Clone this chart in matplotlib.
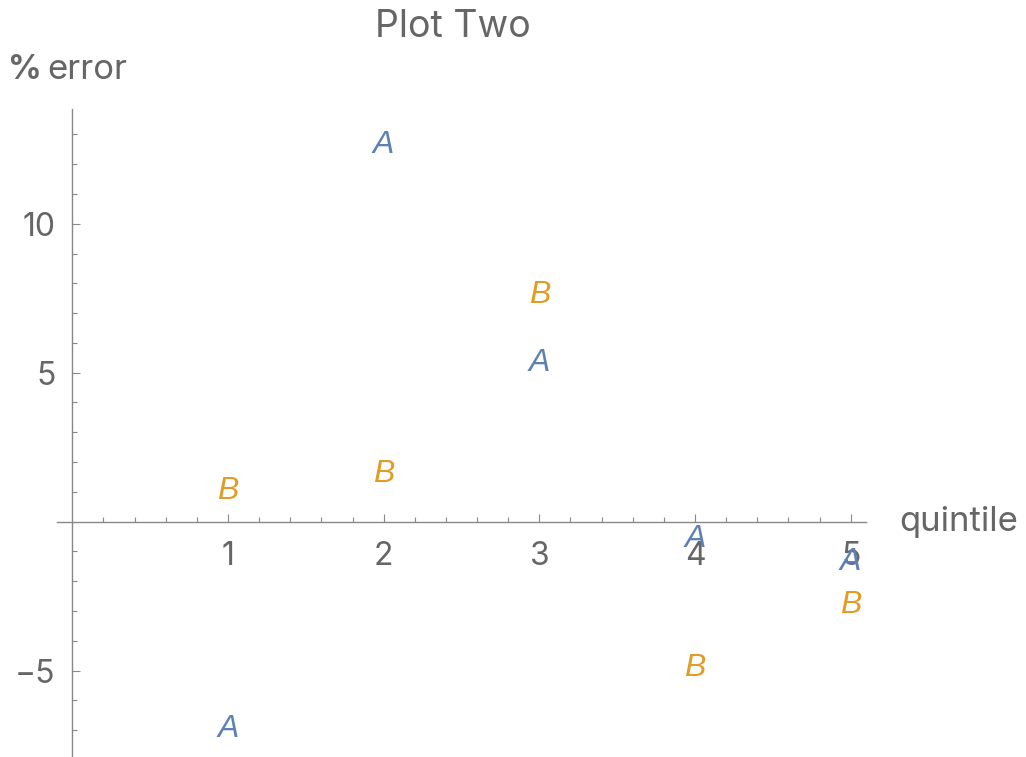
import numpy as np
import matplotlib
matplotlib.use("Agg")
import matplotlib.pyplot as plt
from matplotlib.ticker import FixedLocator
from matplotlib.transforms import offset_copy

quintile = [1, 2, 3, 4, 5]
err_a = [-6.85, 12.73, 5.42, -0.49, -1.27]
err_b = [1.12, 1.69, 7.71, -4.80, -2.70]

col_a = "#5E81B5"
col_b = "#E19C24"
grey = "#666666"
axis_grey = "#888888"

plt.rcParams["font.family"] = ["Inter", "DejaVu Sans"]

fig = plt.figure(figsize=(10.26, 7.57), dpi=100)
ax = fig.add_axes([0.0553, 0.0, 0.789, 0.856])

ax.set_xlim(-0.1, 5.1)
ax.set_ylim(-7.9, 13.85)

# letters used as plot markers, nudged so the glyph centre sits on the point
mark_tr = offset_copy(ax.transData, fig=fig, y=-3, units="dots")
for x, y in zip(quintile, err_a):
    ax.text(x, y, "A", color=col_a, fontsize=23, style="italic",
            family=["Liberation Sans"], ha="center", va="center", transform=mark_tr)
for x, y in zip(quintile, err_b):
    ax.text(x, y, "B", color=col_b, fontsize=23, style="italic",
            family=["Liberation Sans"], ha="center", va="center", transform=mark_tr)

# axes crossing at origin
for s in ["top", "right"]:
    ax.spines[s].set_visible(False)
ax.spines["left"].set_position(("data", 0))
ax.spines["bottom"].set_position(("data", 0))
for s in ["left", "bottom"]:
    ax.spines[s].set_color(axis_grey)
    ax.spines[s].set_linewidth(1.0)

ax.xaxis.set_major_locator(FixedLocator([1, 2, 3, 4, 5]))
ax.xaxis.set_minor_locator(FixedLocator([i * 0.2 for i in range(1, 26) if i % 5]))
ax.yaxis.set_major_locator(FixedLocator([-5, 5, 10]))
ax.yaxis.set_minor_locator(FixedLocator([v for v in range(-7, 14) if v % 5]))

ax.tick_params(which="both", direction="in", color=axis_grey, labelcolor=grey,
               labelsize=23, width=0.8)
ax.tick_params(which="major", length=6)
ax.tick_params(which="minor", length=3.5)
ax.tick_params(axis="x", which="major", pad=14)
ax.tick_params(axis="y", which="major", pad=12)
ax.set_yticklabels(["\u22125", "5", "10"])

fig.text(0.441, 0.964, "Plot Two", ha="center", va="center", fontsize=27, color=grey)
fig.text(0.008, 0.907, "%", ha="left", va="center", fontsize=24,
         fontweight="bold", color=grey)
fig.text(0.046, 0.907, "error", ha="left", va="center", fontsize=25, color=grey)
fig.text(0.876, 0.311, "quintile", ha="left", va="center", fontsize=25, color=grey)

fig.savefig("out.png", dpi=100)
